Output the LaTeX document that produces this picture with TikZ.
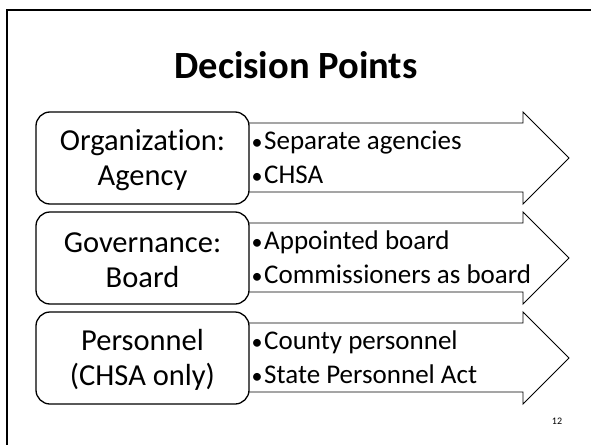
\documentclass[tikz,border=0pt]{standalone}
\usepackage{fontspec}
\setmainfont{Carlito}[Ligatures=NoCommon]
\newcommand{\bulmark}{\llap{{\fontsize{22}{22}\selectfont•}\hspace{1.5pt}}}
\begin{document}
\begin{tikzpicture}[x=1pt,y=-1pt,
  boxst/.style={draw=black,line width=1.3pt,rounded corners=14pt,fill=white},
  arrowst/.style={draw=black,line width=0.9pt,fill=white,line join=miter},
  boxtext/.style={font=\fontsize{30.5}{35}\selectfont,align=center,inner sep=0pt},
  bultext/.style={font=\fontsize{27}{34}\selectfont,anchor=base west,inner sep=0pt},
  numst/.style={font=\fontsize{10}{12}\selectfont,inner sep=0pt}]
\useasboundingbox (0,0) rectangle (591,444);
\draw[line width=2.6pt] (7,460) -- (7,10) -- (610,10);
\node[font=\bfseries\fontsize{38.5}{44}\selectfont,anchor=base,inner sep=0pt] (title) at (296,78) {Decision Points};
\foreach \r/\a/\b/\c/\d [count=\i] in {0/{Organization:\\Agency}/Separate agencies/CHSA/a,
  100/{Governance:\\Board}/Appointed board/Commissioners as board/b,
  200/{Personnel\\(CHSA only)}/County personnel/State Personnel Act/c}{
  \draw[arrowst] (240,123+\r) -- (523,123+\r) -- (523,112+\r) -- (569,158+\r)
     -- (523,204+\r) -- (523,192+\r) -- (240,192+\r) -- cycle;
  \node[boxst,minimum width=213pt,minimum height=92pt] (box\d) at (142.5,158+\r) {};
  \node[boxtext] (boxtext\d) at (142.5,160+\r) {\a};
  \node[bultext] (bulA\d) at (264,149+\r) {\bulmark\b};
  \node[bultext] (bulB\d) at (264,183+\r) {\bulmark\c};
}
\node[numst] (num) at (557,421) {12};
\end{tikzpicture}
\end{document}
